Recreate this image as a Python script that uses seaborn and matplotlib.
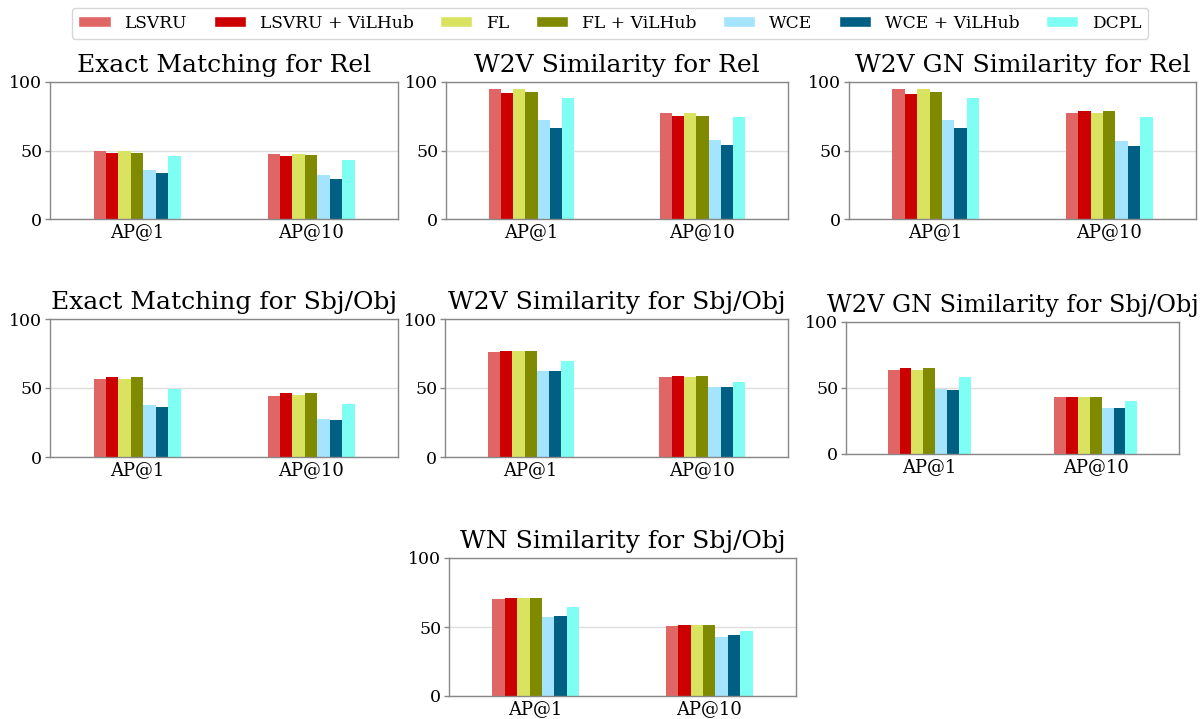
import matplotlib
matplotlib.use("Agg")
import matplotlib.pyplot as plt
import matplotlib.patches as mpatches
import seaborn as sns
import pandas as pd

# Methods and colours
methods = ["LSVRU", "LSVRU + ViLHub", "FL", "FL + ViLHub", "WCE", "WCE + ViLHub", "DCPL"]
method_colors = ["#e06666", "#cc0000", "#d9e360", "#808a00", "#a4e4ff", "#005f83", "#7ffff4"]
metrics = ["AP@1", "AP@10"]

# Values per panel, one list per metric (order follows `methods`)
exact_rel_ap1 = [50.0, 48.2, 49.6, 48.2, 35.6, 33.4, 46.0]
exact_rel_ap10 = [47.7, 46.0, 47.7, 46.5, 32.2, 29.0, 43.3]
w2v_rel_ap1 = [95.2, 92.0, 94.9, 92.7, 72.2, 66.1, 88.1]
w2v_rel_ap10 = [77.2, 75.1, 77.2, 75.5, 57.6, 53.8, 74.1]
w2vgn_rel_ap1 = [95.2, 91.5, 94.9, 92.5, 72.2, 66.1, 88.1]
w2vgn_rel_ap10 = [77.7, 78.7, 77.2, 78.7, 56.9, 53.0, 74.3]
exact_so_ap1 = [56.3, 58.0, 56.3, 58.0, 37.7, 36.0, 49.5]
exact_so_ap10 = [44.4, 46.6, 44.9, 46.6, 27.8, 26.8, 38.6]
w2v_so_ap1 = [76.3, 77.0, 76.8, 77.0, 62.6, 62.6, 69.8]
w2v_so_ap10 = [58.0, 58.5, 58.2, 58.9, 50.5, 51.0, 54.6]
w2vgn_so_ap1 = [63.6, 65.4, 63.4, 65.4, 49.2, 48.2, 58.3]
w2vgn_so_ap10 = [42.9, 43.4, 43.4, 43.4, 35.1, 35.1, 39.9]
wn_so_ap1 = [70.4, 71.1, 70.9, 71.1, 57.3, 58.0, 64.6]
wn_so_ap10 = [50.7, 51.2, 51.2, 51.2, 42.7, 43.9, 46.8]

panel_titles = [
    "Exact Matching for Rel", "W2V Similarity for Rel", "W2V GN Similarity for Rel",
    "Exact Matching for Sbj/Obj", "W2V Similarity for Sbj/Obj", "W2V GN Similarity for Sbj/Obj",
    "WN Similarity for Sbj/Obj",
]
panel_values = [
    (exact_rel_ap1, exact_rel_ap10), (w2v_rel_ap1, w2v_rel_ap10), (w2vgn_rel_ap1, w2vgn_rel_ap10),
    (exact_so_ap1, exact_so_ap10), (w2v_so_ap1, w2v_so_ap10), (w2vgn_so_ap1, w2vgn_so_ap10),
    (wn_so_ap1, wn_so_ap10),
]

W, H = 1202, 719
# axes boxes in pixels: left, top, right, bottom
panel_boxes = [
    (50, 82, 398, 219), (446, 82, 788, 219), (849, 82, 1196, 219),
    (50, 319, 398, 457), (445, 319, 788, 457), (846, 322, 1179, 454),
    (449, 558, 796, 696),
]
title_sizes = [18, 18, 18, 18, 18, 17.3, 18]

sns.set_style("white")
plt.rcParams["font.family"] = ["DejaVu Serif"]
plt.rcParams["text.color"] = "black"
plt.rcParams["xtick.color"] = "#888888"
plt.rcParams["ytick.color"] = "#888888"
plt.rcParams["xtick.labelcolor"] = "black"
plt.rcParams["ytick.labelcolor"] = "black"

fig = plt.figure(figsize=(W / 100, H / 100), dpi=100)
palette = dict(zip(methods, method_colors))

for title, (v1, v10), (l, t, r, b), ts in zip(panel_titles, panel_values, panel_boxes, title_sizes):
    ax = fig.add_axes([l / W, (H - b) / H, (r - l) / W, (b - t) / H])
    df = pd.DataFrame({
        "metric": [metrics[0]] * len(methods) + [metrics[1]] * len(methods),
        "method": methods + methods,
        "value": v1 + v10,
    })
    sns.barplot(data=df, x="metric", y="value", hue="method", hue_order=methods,
                palette=palette, saturation=1, width=0.5, ax=ax, legend=False, linewidth=0)
    ax.set_xlim(-0.5, 1.5)
    ax.set_ylim(0, 100)
    ax.set_yticks([0, 50, 100])
    ax.yaxis.grid(True, color="#dddddd", linewidth=1)
    ax.set_axisbelow(True)
    ax.set_xlabel("")
    ax.set_ylabel("")
    ax.tick_params(axis="y", labelsize=12.5, length=3.5, width=1, pad=2, left=True)
    ax.tick_params(axis="x", labelsize=13, length=0, pad=3)
    for s in ax.spines.values():
        s.set_color("#888888")
        s.set_linewidth(1)
    ax.set_title(title, fontsize=ts, pad=7, color="black")

handles = [mpatches.Patch(facecolor=c, label=m) for m, c in zip(methods, method_colors)]
fig.legend(handles=handles, loc="upper center", bbox_to_anchor=(0.5075, 0.989), ncol=7,
           fontsize=12.3, frameon=True, edgecolor="#cccccc", handlelength=1.9,
           handleheight=0.6, handletextpad=0.8, columnspacing=1.55, borderpad=0.4,
           borderaxespad=0, fancybox=True)

fig.savefig("out.png", dpi=100)
